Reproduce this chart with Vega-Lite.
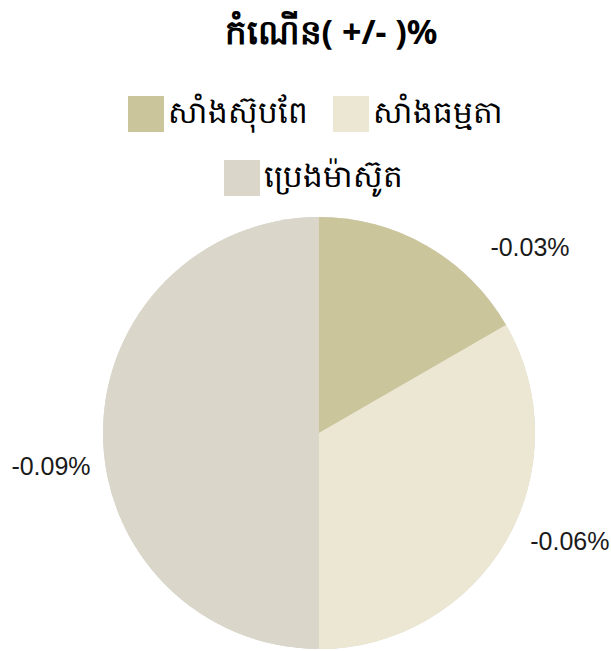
{
  "$schema": "https://vega.github.io/schema/vega-lite/v6.json",
  "width": 432,
  "height": 432,
  "autosize": {"type": "none"},
  "padding": {"left": 103, "top": 217, "right": 76, "bottom": 2},
  "background": "white",
  "title": {
    "text": "កំណើន( +/- )%",
    "frame": "group",
    "anchor": "middle",
    "orient": "top",
    "offset": 45,
    "dx": 12,
    "fontSize": 34,
    "fontWeight": "bold",
    "font": "Noto Sans",
    "color": "#000000"
  },
  "config": {
    "view": {"stroke": null},
    "locale": {"number": {"decimal": ".", "thousands": ",", "grouping": [3], "currency": ["$", ""], "minus": "-"}}
  },
  "data": {
    "values": [
      {"name": "សាំងស៊ុបពែ", "growth": -0.0003},
      {"name": "សាំងធម្មតា", "growth": -0.0006},
      {"name": "ប្រេងម៉ាស៊ូត", "growth": -0.0009}
    ]
  },
  "encoding": {
    "theta": {"field": "growth", "type": "quantitative", "stack": true, "scale": {"reverse": true, "nice": false}},
    "order": {"field": "growth", "sort": "descending"}
  },
  "layer": [
    {
      "mark": {"type": "arc", "outerRadius": 216, "fill": "#DAD6CA", "strokeWidth": 0},
      "encoding": {
        "stroke": {
          "field": "name", "type": "nominal",
          "scale": {"domain": ["ប្រេងម៉ាស៊ូត"], "range": ["#DAD6CA"]},
          "legend": {
            "values": ["ប្រេងម៉ាស៊ូត"],
            "orient": "none", "legendX": 121, "legendY": -57, "direction": "horizontal",
            "title": null, "symbolType": "square", "symbolSize": 1296, "symbolStrokeWidth": 0,
            "symbolFillColor": "#DAD6CA",
            "labelFontSize": 31, "labelFont": "Noto Sans", "labelColor": "#000000",
            "labelOffset": 4, "labelLimit": 300
          }
        }
      }
    },
    {
      "mark": {"type": "arc", "outerRadius": 216},
      "encoding": {
        "fill": {
          "field": "name", "type": "nominal",
          "scale": {"domain": ["សាំងស៊ុបពែ", "សាំងធម្មតា", "ប្រេងម៉ាស៊ូត"], "range": ["#CBC59C", "#EBE7D3", "#DAD6CA"]},
          "legend": {
            "values": ["សាំងស៊ុបពែ", "សាំងធម្មតា"],
            "orient": "none", "legendX": 25, "legendY": -121, "direction": "horizontal",
            "title": null, "symbolType": "square", "symbolSize": 1296, "symbolStrokeWidth": 0,
            "labelFontSize": 31, "labelFont": "Noto Sans", "labelColor": "#000000",
            "labelOffset": 4, "columnPadding": 25, "labelLimit": 300
          }
        }
      }
    },
    {
      "mark": {"type": "text", "radius": 270, "dx": 76, "dy": 49, "font": "Liberation Sans", "fontSize": 25, "color": "#1a1a1a", "align": "center", "baseline": "middle"},
      "encoding": {
        "text": {"condition": {"test": "datum.name === 'សាំងស៊ុបពែ'", "field": "growth", "format": ".2%"}, "value": ""}
      }
    },
    {
      "mark": {"type": "text", "radius": 270, "dx": 17, "dy": -26, "font": "Liberation Sans", "fontSize": 25, "color": "#1a1a1a", "align": "center", "baseline": "middle"},
      "encoding": {
        "text": {"condition": {"test": "datum.name === 'សាំងធម្មតា'", "field": "growth", "format": ".2%"}, "value": ""}
      }
    },
    {
      "mark": {"type": "text", "radius": 270, "dx": 2, "dy": 34, "font": "Liberation Sans", "fontSize": 25, "color": "#1a1a1a", "align": "center", "baseline": "middle"},
      "encoding": {
        "text": {"condition": {"test": "datum.name === 'ប្រេងម៉ាស៊ូត'", "field": "growth", "format": ".2%"}, "value": ""}
      }
    }
  ]
}
